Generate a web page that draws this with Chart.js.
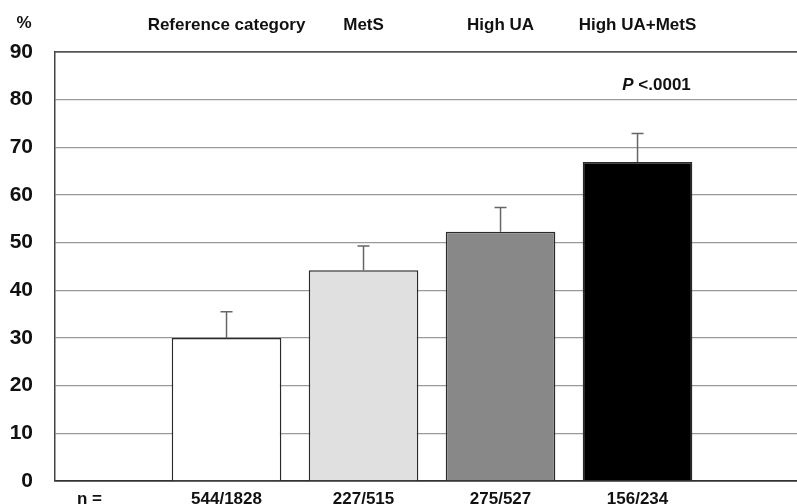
<!DOCTYPE html>
<html>
<head>
<meta charset="utf-8">
<script src="https://cdn.jsdelivr.net/npm/chart.js@4/dist/chart.umd.min.js"></script>
<style>
  html, body { margin: 0; padding: 0; background: #fff; }
  #wrap { width: 797px; height: 504px; position: relative; }
</style>
</head>
<body>
<div id="wrap"><canvas id="c" width="797" height="504"></canvas></div>
<script>
const categories = ['Reference category', 'MetS', 'High UA', 'High UA+MetS'];
const nLabels = ['n =', '544/1828', '227/515', '275/527', '156/234'];
const percentages = [30.0, 44.2, 52.3, 66.9];
const errorUpper = [35.5, 49.3, 57.4, 72.9];
const barColors = ['#ffffff', '#e0e0e0', '#888888', '#000000'];
const yTicks = [0, 10, 20, 30, 40, 50, 60, 70, 80, 90];
const pLabel = ['P', ' <.0001'];

const FONT = "'Liberation Sans', Arial, sans-serif";

const errorBarPlugin = {
  id: 'errorBars',
  afterDatasetsDraw(chart) {
    const ctx = chart.ctx;
    const meta = chart.getDatasetMeta(0);
    const ys = chart.scales.y;
    ctx.save();
    ctx.strokeStyle = '#666';
    ctx.lineWidth = 1.5;
    meta.data.forEach((bar, i) => {
      const x = bar.x;
      const y0 = ys.getPixelForValue(percentages[i]);
      const y1 = ys.getPixelForValue(errorUpper[i]);
      ctx.beginPath();
      ctx.moveTo(x, y0);
      ctx.lineTo(x, y1);
      ctx.moveTo(x - 6, y1);
      ctx.lineTo(x + 6, y1);
      ctx.stroke();
    });
    ctx.restore();
  }
};

const annotationPlugin = {
  id: 'annot',
  afterDraw(chart) {
    const ctx = chart.ctx;
    const xs = chart.scales.x;
    const ys = chart.scales.y;
    ctx.save();
    ctx.fillStyle = '#111';
    ctx.textBaseline = 'middle';
    ctx.font = 'bold 17px ' + FONT;
    ctx.textAlign = 'center';
    ctx.fillText('%', 24, 23);
    const cx = xs.getPixelForValue(4) + 19;
    const cy = ys.getPixelForValue(83);
    ctx.font = 'italic bold 17px ' + FONT;
    const w1 = ctx.measureText(pLabel[0]).width;
    ctx.font = 'bold 17px ' + FONT;
    const w2 = ctx.measureText(pLabel[1]).width;
    const start = cx - (w1 + w2) / 2;
    ctx.textAlign = 'left';
    ctx.font = 'italic bold 17px ' + FONT;
    ctx.fillText(pLabel[0], start, cy);
    ctx.font = 'bold 17px ' + FONT;
    ctx.fillText(pLabel[1], start + w1, cy);
    ctx.restore();
  }
};

new Chart(document.getElementById('c'), {
  type: 'bar',
  data: {
    datasets: [{
      data: percentages.map((v, i) => ({ x: i + 1, y: v })),
      backgroundColor: barColors,
      borderColor: '#2a2a2a',
      borderWidth: 1.5,
      borderSkipped: 'bottom',
      barPercentage: 0.8,
      categoryPercentage: 1.0
    }]
  },
  options: {
    responsive: false,
    animation: false,
    layout: { padding: 0 },
    plugins: { legend: { display: false }, tooltip: { enabled: false }, title: { display: false } },
    scales: {
      x: {
        type: 'linear',
        position: 'bottom',
        offset: false,
        min: -0.252,
        max: 5.164,
        afterBuildTicks: s => { s.ticks = nLabels.map((_, i) => ({ value: i })); },
        afterFit: s => { s.height = 23; s.paddingLeft = 0; s.paddingRight = 0; },
        grid: { display: false, drawTicks: false },
        border: { display: true, color: '#333', width: 1.5 },
        ticks: {
          autoSkip: false, maxRotation: 0, padding: 8,
          color: '#111',
          font: { family: FONT, size: 17, weight: 'bold' },
          callback: v => nLabels[v]
        }
      },
      xTop: {
        type: 'linear',
        position: 'top',
        offset: false,
        min: -0.252,
        max: 5.164,
        afterBuildTicks: s => { s.ticks = categories.map((_, i) => ({ value: i + 1 })); },
        afterFit: s => { s.height = 52; s.paddingLeft = 0; s.paddingRight = 0; },
        grid: { display: false, drawTicks: false },
        border: { display: true, color: '#555', width: 1.5 },
        ticks: {
          autoSkip: false, maxRotation: 0, padding: 16,
          color: '#111',
          font: { family: FONT, size: 17, weight: 'bold' },
          callback: v => categories[v - 1]
        }
      },
      y: {
        min: 0,
        max: 90,
        afterBuildTicks: s => { s.ticks = yTicks.map(v => ({ value: v })); },
        afterFit: s => { s.width = 55; s.paddingTop = 0; s.paddingBottom = 0; },
        grid: {
          drawTicks: false,
          color: ctx => (ctx.tick && ctx.tick.value === 90) ? '#555' : (ctx.tick && ctx.tick.value === 0 ? '#333' : '#9a9a9a'),
          lineWidth: ctx => (ctx.tick && (ctx.tick.value === 90 || ctx.tick.value === 0)) ? 1.5 : 1.2
        },
        border: { display: true, color: '#444', width: 1.5 },
        ticks: {
          padding: 22,
          color: '#111',
          font: { family: FONT, size: 21, weight: 'bold' }
        }
      }
    }
  },
  plugins: [errorBarPlugin, annotationPlugin]
});
</script>
</body>
</html>
